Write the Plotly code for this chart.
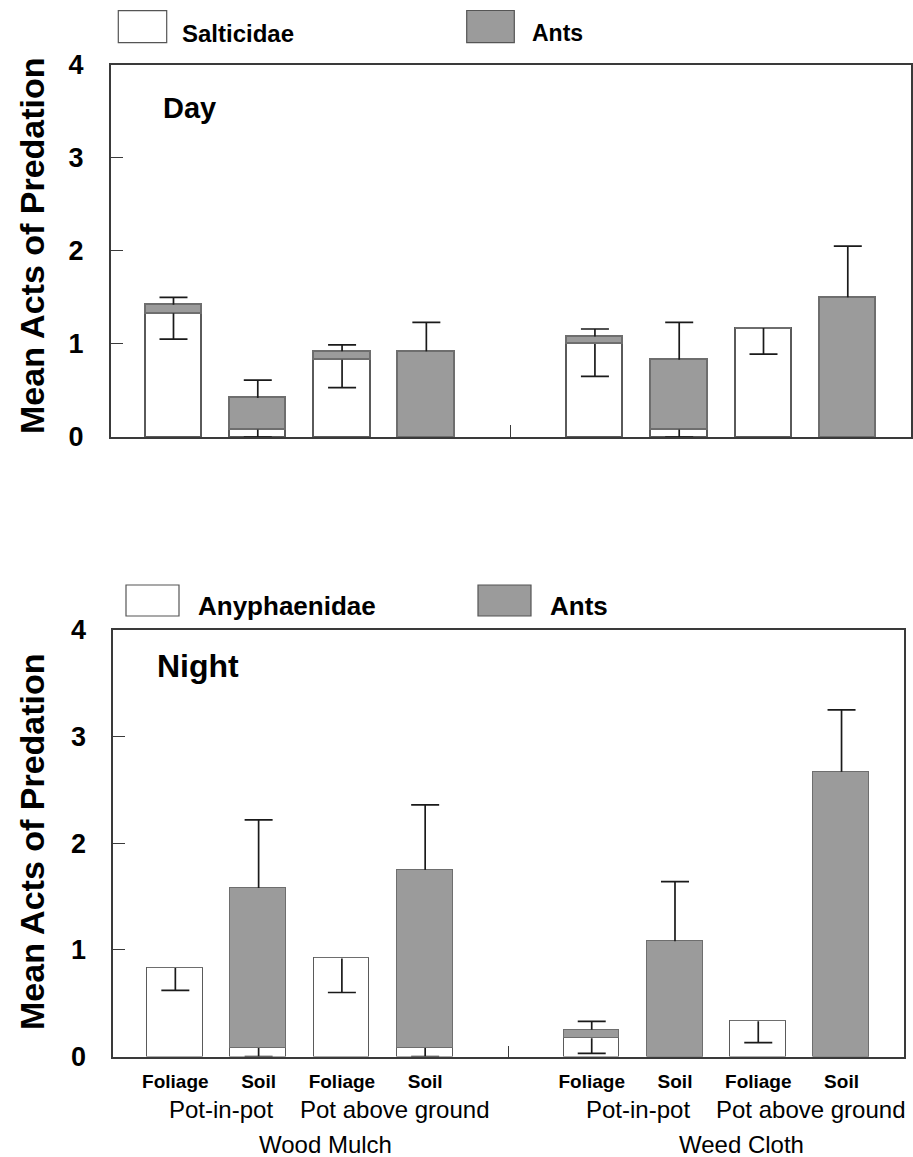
import plotly.graph_objects as go

FONT = "Liberation Sans, Arial, Helvetica, sans-serif"
W, H = 913, 1157

# ---- categories -------------------------------------------------------
ground_covers = ["Wood Mulch", "Weed Cloth"]
pot_systems = ["Pot-in-pot", "Pot above ground"]
locations = ["Foliage", "Soil"]

# ---- day: Salticidae + ants (mean acts of predation, SE) --------------
day_spider = [1.33, 0.08, 0.83, 0.00, 1.00, 0.08, 1.17, 0.00]
day_ants = [0.09, 0.34, 0.09, 0.92, 0.08, 0.75, 0.00, 1.50]
day_spider_se = [0.28, 0.08, 0.30, None, 0.35, 0.08, 0.28, None]
day_ants_se = [0.08, 0.19, 0.07, 0.31, 0.08, 0.40, None, 0.55]

# ---- night: Anyphaenidae + ants ---------------------------------------
night_spider = [0.83, 0.08, 0.92, 0.08, 0.17, 0.00, 0.33, 0.00]
night_ants = [0.00, 1.50, 0.00, 1.67, 0.08, 1.08, 0.00, 2.67]
night_spider_se = [0.21, 0.08, 0.32, 0.08, 0.14, None, 0.20, None]
night_ants_se = [None, 0.64, None, 0.61, 0.08, 0.56, None, 0.58]

y_ticks = [0, 1, 2, 3, 4]

# slot positions: two ground covers separated by one empty slot
slots, slot_labels = [], []
for g in range(len(ground_covers)):
    for p in range(len(pot_systems)):
        for l in range(len(locations)):
            slots.append(g * 5 + p * 2 + l)
            slot_labels.append(locations[l])
gap_slot = 4

GREY = "#9b9b9b"
EDGE = "#5a5a5a"
FRAME = "#3a3a3a"
ERR = "#1a1a1a"
BAR_W = 0.67
X_RANGE = [-0.745, 8.75]
CAP = 14


def px_x(px):
    return px / W


def px_y(py):
    return 1 - py / H


fig = go.Figure()


def err_trace(y, plus, minus, width, xa, ya):
    fig.add_trace(go.Scatter(
        x=slots, y=y, mode="markers", marker=dict(size=1, opacity=0),
        error_y=dict(type="data", symmetric=False, array=plus,
                     arrayminus=minus, width=width, thickness=1.7,
                     color=ERR),
        xaxis=xa, yaxis=ya, showlegend=False, hoverinfo="skip"))


def add_panel(spider, ants, spider_se, ants_se, xa, ya):
    n = len(slots)
    fig.add_trace(go.Bar(
        x=slots, y=spider, width=BAR_W, xaxis=xa, yaxis=ya,
        marker=dict(color="white", line=dict(color=EDGE, width=1.3)),
        showlegend=False, hoverinfo="skip"))
    fig.add_trace(go.Bar(
        x=slots, y=ants, width=BAR_W, xaxis=xa, yaxis=ya,
        marker=dict(color=GREY, line=dict(color="#6e6e6e", width=1.3)),
        showlegend=False, hoverinfo="skip"))

    zeros = [0] * n
    # spider SE: stem below the spider mean, cap at its lower end
    sp_mean = [s if e is not None else None for s, e in zip(spider, spider_se)]
    sp_low = [s - e if e is not None else None
              for s, e in zip(spider, spider_se)]
    err_trace(sp_mean, zeros, [e or 0 for e in spider_se], 0, xa, ya)
    err_trace(sp_low, zeros, zeros, CAP, xa, ya)

    # ant SE: stem above the top of the stack, cap at its upper end
    top = [s + a if e is not None else None
           for s, a, e in zip(spider, ants, ants_se)]
    top_high = [s + a + e if e is not None else None
                for s, a, e in zip(spider, ants, ants_se)]
    err_trace(top, [e or 0 for e in ants_se], zeros, 0, xa, ya)
    err_trace(top_high, zeros, zeros, CAP, xa, ya)


add_panel(day_spider, day_ants, day_spider_se, day_ants_se, "x", "y")
add_panel(night_spider, night_ants, night_spider_se, night_ants_se, "x2", "y2")

yaxis_common = dict(
    range=[0, 4], tickvals=y_ticks, ticks="inside", ticklen=12,
    tickwidth=1.3, tickcolor=FRAME, showline=True, mirror=True,
    linecolor=FRAME, linewidth=1.6, showgrid=False, zeroline=False,
    tickfont=dict(family=FONT, size=27, color="black", weight="bold"),
    ticklabelstandoff=20, automargin=False, fixedrange=True)

fig.update_layout(
    template="none",
    width=W, height=H, margin=dict(l=0, r=0, t=0, b=0, pad=0),
    paper_bgcolor="white", plot_bgcolor="white", barmode="stack",
    bargap=0, showlegend=False,
    xaxis=dict(domain=[px_x(110.7), px_x(911)], range=X_RANGE, anchor="y",
               tickvals=[gap_slot], ticks="inside", ticklen=12,
               tickwidth=1.3, tickcolor=FRAME, showticklabels=False,
               showline=True, mirror=True, linecolor=FRAME, linewidth=1.6,
               showgrid=False, zeroline=False, automargin=False),
    yaxis=dict(domain=[px_y(437), px_y(64.5)], anchor="x", **yaxis_common),
    xaxis2=dict(domain=[px_x(113.3), px_x(904)], range=X_RANGE, anchor="y2",
                tickvals=slots, ticktext=slot_labels, ticks="",
                tickfont=dict(family=FONT, size=19, color="black",
                              weight="bold"),
                ticklabelstandoff=7,
                minor=dict(tickvals=[gap_slot], ticks="inside", ticklen=11,
                           tickwidth=1.3, tickcolor=FRAME),
                showline=True, mirror=True, linecolor=FRAME, linewidth=1.6,
                showgrid=False, zeroline=False, automargin=False),
    yaxis2=dict(domain=[px_y(1056.5), px_y(630)], anchor="x2", **yaxis_common),
)

annotations = []
shapes = []


def text(s, x, y, size, bold=True, xanchor="left", xref="paper", angle=0):
    annotations.append(dict(
        text=s, x=x, y=y, xref=xref, yref="paper", showarrow=False,
        xanchor=xanchor, yanchor="middle", textangle=angle,
        font=dict(family=FONT, size=size, color="black",
                  weight="bold" if bold else "normal")))


def key_box(x0, x1, y0, y1, fill):
    shapes.append(dict(type="rect", xref="paper", yref="paper",
                       x0=px_x(x0), x1=px_x(x1), y0=px_y(y1), y1=px_y(y0),
                       fillcolor=fill, line=dict(color="#555555", width=1.2)))


# legend keys
key_box(118.3, 166.7, 10.7, 42.7, "white")
text("Salticidae", px_x(180), px_y(33), 24)
key_box(466.7, 514.3, 10.5, 42.7, GREY)
text("Ants", px_x(530), px_y(33), 23)

key_box(126, 179, 585, 616, "white")
text("Anyphaenidae", px_x(196), px_y(606), 26)
key_box(478, 531, 585, 616, GREY)
text("Ants", px_x(548), px_y(606), 26)

# panel titles
text("Day", px_x(161), px_y(108), 29)
text("Night", px_x(155), px_y(666), 32)

# y-axis titles
text("Mean Acts of Predation", px_x(32), px_y(246), 34,
     xanchor="center", angle=-90)
text("Mean Acts of Predation", px_x(32), px_y(842), 34,
     xanchor="center", angle=-90)

# grouping labels beneath the night panel
pot_nudge = [0.05, 0.13]
for g, ground in enumerate(ground_covers):
    for p, pot in enumerate(pot_systems):
        pair = [g * 5 + p * 2, g * 5 + p * 2 + 1]
        cx = sum(pair) / 2 + pot_nudge[p]
        annotations.append(dict(
            text=pot, x=cx, y=px_y(1109), xref="x2", yref="paper",
            showarrow=False, xanchor="center", yanchor="middle",
            font=dict(family=FONT, size=24, color="black")))
    cx = g * 5 + 1.5 + 0.3
    annotations.append(dict(
        text=ground, x=cx, y=px_y(1144), xref="x2", yref="paper",
        showarrow=False, xanchor="center", yanchor="middle",
        font=dict(family=FONT, size=24, color="black")))

fig.update_layout(annotations=annotations, shapes=shapes)

fig.write_html("out.html")
